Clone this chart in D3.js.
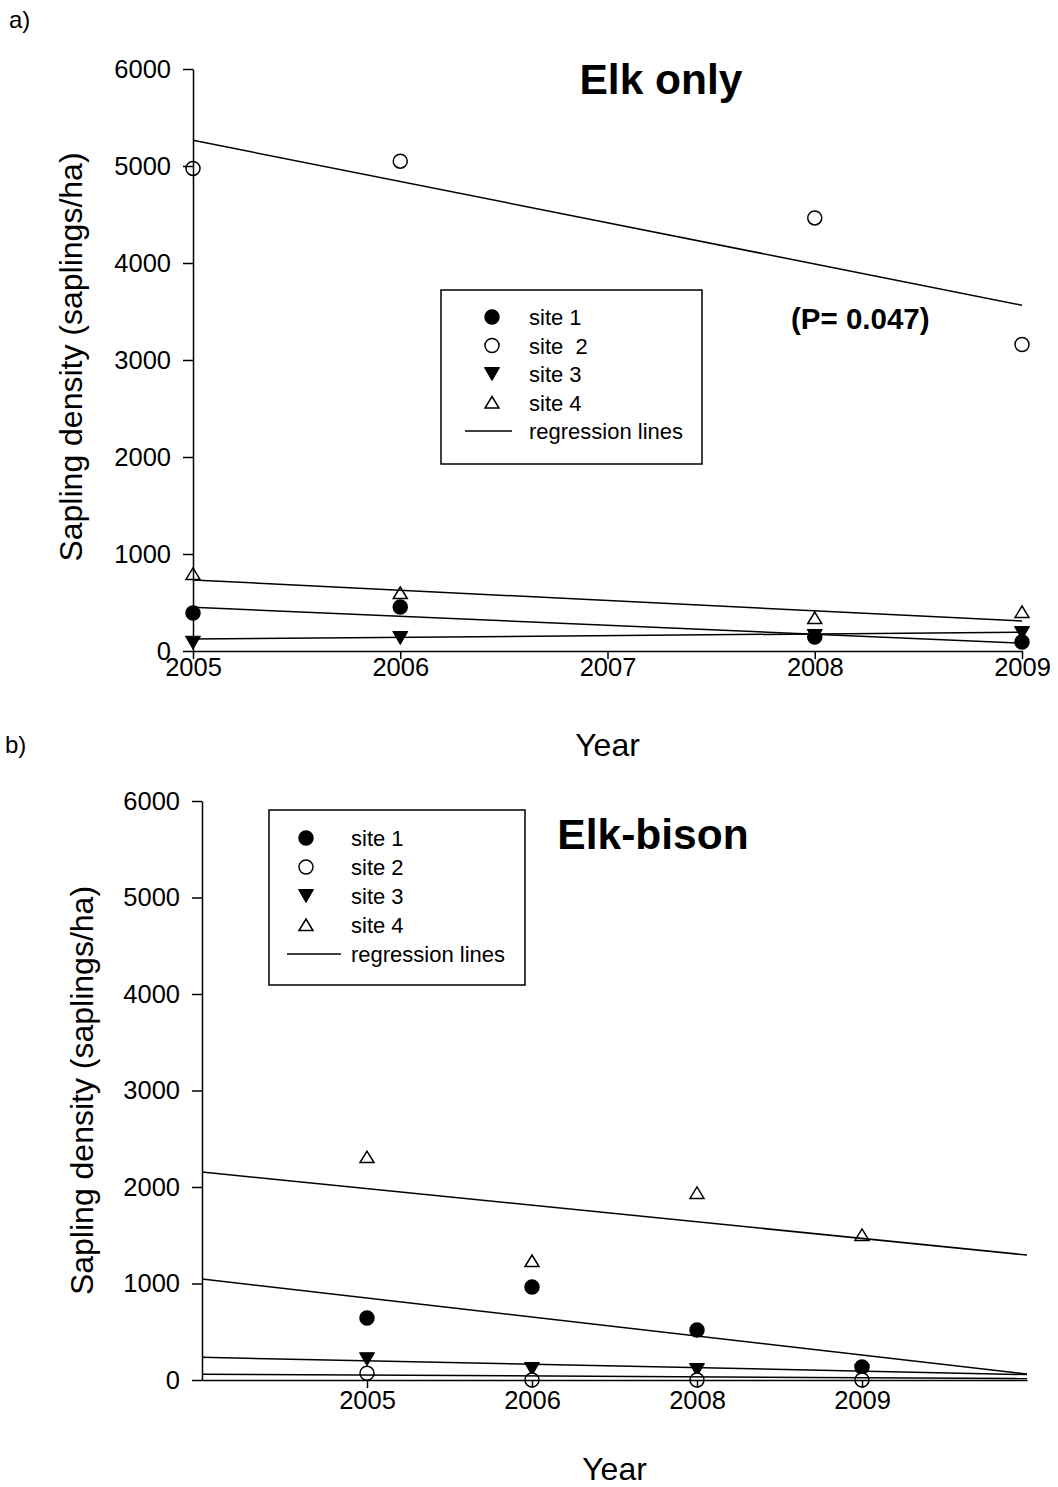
<!DOCTYPE html>
<html>
<head>
<meta charset="utf-8">
<script src="https://cdn.jsdelivr.net/npm/d3@7"></script>
<style>
  body { margin: 0; background: #fff; }
  svg { display: block; font-family: "Liberation Sans", Arial, sans-serif; }
</style>
</head>
<body>
<div id="chart"></div>
<script>
// ── Data ──────────────────────────────────────────────────
var yTicks = [0, 1000, 2000, 3000, 4000, 5000, 6000];

// a) Elk only
var elkYears = [2005, 2006, 2008, 2009];
var elkYearTicks = [2005, 2006, 2007, 2008, 2009];
var elkSiteLabels = ["site 1", "site  2", "site 3", "site 4"];
var elkSite1 = [392, 454, 144, 93];
var elkSite2 = [4975, 5050, 4465, 3160];
var elkSite3 = [85, 134, 155, 185];
var elkSite4 = [795, 598, 340, 402];
// regression lines: value at 2005 and at 2009
var elkRegStart = [451, 5265, 124, 732];
var elkRegEnd = [80, 3565, 193, 309];

// b) Elk-bison (evenly spaced categories on a 0..5 axis)
var bisonPos = [1, 2, 3, 4];
var bisonYearLabels = ["2005", "2006", "2008", "2009"];
var bisonSiteLabels = ["site 1", "site 2", "site 3", "site 4"];
var bisonSite1 = [642, 963, 518, 135];
var bisonSite2 = [70, 0, 0, 0];
var bisonSite3 = [215, 114, 104, 90];
var bisonSite4 = [2310, 1233, 1938, 1503];
// regression lines: value at axis start (0) and end (5)
var bisonRegStart = [1047, 60, 235, 2155];
var bisonRegEnd = [62, 15, 56, 1295];

// ── Symbols ───────────────────────────────────────────────
var symbolKinds = ["circleFilled", "circleOpen", "triDown", "triUp"];

function drawSymbol(g, kind, x, y) {
  if (kind === "circleFilled" || kind === "circleOpen") {
    g.append("circle")
      .attr("cx", x).attr("cy", y).attr("r", 7)
      .attr("fill", kind === "circleFilled" ? "#000" : "#fff")
      .attr("stroke", "#000").attr("stroke-width", 1.5);
  } else if (kind === "triDown") {
    g.append("path")
      .attr("d", "M" + (x - 7.5) + "," + (y - 6.5) + "L" + (x + 7.5) + "," + (y - 6.5) + "L" + x + "," + (y + 6.5) + "Z")
      .attr("fill", "#000").attr("stroke", "#000").attr("stroke-width", 1);
  } else {
    g.append("path")
      .attr("d", "M" + (x - 7) + "," + (y + 5.5) + "L" + (x + 7) + "," + (y + 5.5) + "L" + x + "," + (y - 6) + "Z")
      .attr("fill", "#fff").attr("stroke", "#000").attr("stroke-width", 1.5);
  }
}

var svg = d3.select("#chart").append("svg")
  .attr("width", 1058).attr("height", 1487);

// ── Panel ─────────────────────────────────────────────────
function drawPanel(p) {
  var x = d3.scaleLinear().domain(p.xDomain).range([p.left, p.right]);
  var y = d3.scaleLinear().domain([0, 6000]).range([p.bottom, p.top]);
  var g = svg.append("g");

  // markers (site 2 last, it sits on top in the original)
  [0, 2, 3, 1].forEach(function (s) {
    p.series[s].forEach(function (v, i) {
      drawSymbol(g, symbolKinds[s], x(p.xs[i]), y(v));
    });
  });

  // regression lines
  p.regStart.forEach(function (v, s) {
    g.append("line")
      .attr("x1", x(p.xDomain[0])).attr("y1", y(v))
      .attr("x2", x(p.xDomain[1])).attr("y2", y(p.regEnd[s]))
      .attr("stroke", "#000").attr("stroke-width", 1.5);
  });

  // axes
  var yAxis = g.append("g")
    .attr("transform", "translate(" + p.left + ",0)")
    .call(d3.axisLeft(y).tickValues(yTicks).tickSize(10).tickSizeOuter(0).tickPadding(12).tickFormat(d3.format("d")));
  var xAxis = g.append("g")
    .attr("transform", "translate(0," + p.bottom + ")")
    .call(d3.axisBottom(x).tickValues(p.xTicks).tickSize(8).tickSizeOuter(0).tickPadding(p.xPad).tickFormat(p.xFormat));
  [yAxis, xAxis].forEach(function (a) {
    a.select(".domain").attr("stroke", "#000").attr("stroke-width", 1.5);
    a.selectAll(".tick line").attr("stroke", "#000").attr("stroke-width", 1.5);
    a.selectAll(".tick text").attr("fill", "#000").attr("font-size", 25.5)
      .attr("font-family", "Liberation Sans, Arial, sans-serif");
  });

  // axis titles
  svg.append("text")
    .attr("x", (p.left + p.right) / 2).attr("y", p.bottom + p.xTitleDy)
    .attr("text-anchor", "middle").attr("font-size", 32).text("Year");
  svg.append("text")
    .attr("transform", "translate(" + p.yTitleX + "," + ((p.top + p.bottom) / 2 + p.yTitleDy) + ") rotate(-90)")
    .attr("text-anchor", "middle").attr("font-size", 32)
    .text("Sapling density (saplings/ha)");

  // panel letter and title
  svg.append("text").attr("x", p.letterX).attr("y", p.letterY)
    .attr("font-size", 24).text(p.letter);
  svg.append("text").attr("x", p.titleX).attr("y", p.titleY)
    .attr("text-anchor", "middle").attr("font-size", 42.5).attr("font-weight", "bold")
    .text(p.title);

  // legend
  var lg = svg.append("g");
  lg.append("rect")
    .attr("x", p.legend.x).attr("y", p.legend.y)
    .attr("width", p.legend.w).attr("height", p.legend.h)
    .attr("fill", "#fff").attr("stroke", "#000").attr("stroke-width", 1.5);
  p.siteLabels.forEach(function (lab, s) {
    var ry = p.legend.y + p.legend.row0 + s * p.legend.step;
    drawSymbol(lg, symbolKinds[s], p.legend.markX, ry);
    lg.append("text").attr("x", p.legend.textX).attr("y", ry + 8)
      .attr("font-size", 22).attr("xml:space", "preserve").style("white-space", "pre")
      .text(lab);
  });
  var ly = p.legend.y + p.legend.row0 + 4 * p.legend.step;
  lg.append("line")
    .attr("x1", p.legend.lineX1).attr("x2", p.legend.lineX2)
    .attr("y1", ly).attr("y2", ly)
    .attr("stroke", "#000").attr("stroke-width", 1.5);
  lg.append("text").attr("x", p.legend.textX).attr("y", ly + 8)
    .attr("font-size", 22).text("regression lines");
}

drawPanel({
  left: 193, right: 1022, top: 69, bottom: 651,
  xDomain: [2005, 2009], xs: elkYears, xTicks: elkYearTicks,
  xFormat: d3.format("d"), xPad: -1,
  series: [elkSite1, elkSite2, elkSite3, elkSite4],
  regStart: elkRegStart, regEnd: elkRegEnd,
  siteLabels: elkSiteLabels,
  letter: "a)", letterX: 9, letterY: 28,
  title: "Elk only", titleX: 661, titleY: 94,
  xTitleDy: 105, yTitleX: 82, yTitleDy: -3,
  legend: { x: 441, y: 290, w: 261, h: 174, row0: 27, step: 28.5,
            markX: 492, textX: 529, lineX1: 465, lineX2: 512 }
});

svg.append("text").attr("x", 791).attr("y", 329)
  .attr("font-size", 29.5).attr("font-weight", "bold").text("(P= 0.047)");

drawPanel({
  left: 202, right: 1027, top: 801, bottom: 1380,
  xDomain: [0, 5], xs: bisonPos, xTicks: bisonPos,
  xFormat: function (d) { return bisonYearLabels[d - 1]; }, xPad: 3,
  series: [bisonSite1, bisonSite2, bisonSite3, bisonSite4],
  regStart: bisonRegStart, regEnd: bisonRegEnd,
  siteLabels: bisonSiteLabels,
  letter: "b)", letterX: 5, letterY: 753,
  title: "Elk-bison", titleX: 653, titleY: 849,
  xTitleDy: 100, yTitleX: 93, yTitleDy: 0,
  legend: { x: 269, y: 810, w: 256, h: 175, row0: 28, step: 29,
            markX: 306, textX: 351, lineX1: 287, lineX2: 341 }
});
</script>
</body>
</html>
